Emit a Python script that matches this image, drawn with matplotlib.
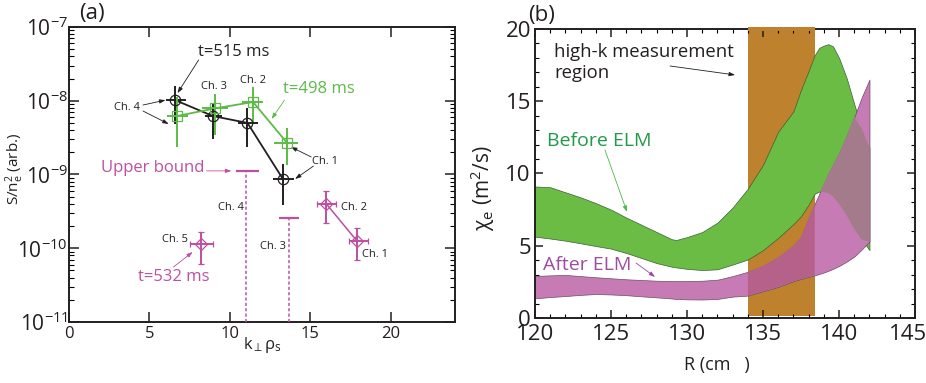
import numpy as np
import matplotlib
matplotlib.use('Agg')
import matplotlib.pyplot as plt
from matplotlib.patches import Rectangle
from matplotlib.ticker import (LogLocator, MultipleLocator, NullFormatter, FixedLocator,
                               FuncFormatter)

plt.rcParams['font.family'] = ['Open Sans', 'DejaVu Sans']
plt.rcParams['mathtext.fontset'] = 'custom'
plt.rcParams['mathtext.rm'] = 'Open Sans'
plt.rcParams['mathtext.it'] = 'Open Sans:italic'
plt.rcParams['mathtext.default'] = 'regular'
plt.rcParams['mathtext.fallback'] = 'stixsans'

# ---- panel (a): spectral density vs k_perp rho_s  (order Ch.4, Ch.3, Ch.2, Ch.1)
k515 = [6.6, 8.95, 11.1, 13.3]
k515_lo = [6.06, 8.44, 10.5, 12.69]
k515_hi = [7.3, 9.5, 11.75, 14.0]
s515 = [1.02e-8, 6.2e-9, 5.0e-9, 8.7e-10]
s515_lo = [4.84e-9, 3.03e-9, 2.36e-9, 3.86e-10]
s515_hi = [1.58e-8, 9.3e-9, 7.97e-9, 1.39e-9]

k498 = [6.7, 9.1, 11.45, 13.55]
k498_lo = [6.1, 8.3, 10.75, 12.75]
k498_hi = [7.4, 9.9, 12.06, 14.25]
s498 = [6.2e-9, 7.9e-9, 9.6e-9, 2.7e-9]
s498_lo = [2.36e-9, 3.44e-9, 5.1e-9, 1.35e-9]
s498_hi = [1.12e-8, 1.24e-8, 1.53e-8, 4.26e-9]

# t=532 ms: Ch.5, Ch.2, Ch.1
k532 = [8.2, 16.0, 17.9]
k532_lo = [7.5, 15.4, 17.4]
k532_hi = [8.94, 16.6, 18.6]
s532 = [1.15e-10, 4.0e-10, 1.26e-10]
s532_lo = [6.2e-11, 2.2e-10, 6.9e-11]
s532_hi = [1.66e-10, 5.97e-10, 1.88e-10]

# upper bounds at t=532 ms: Ch.4, Ch.3
k_ub = [11.0, 13.7]
k_ub_lo = [10.4, 13.06]
k_ub_hi = [11.8, 14.3]
s_ub = [1.12e-9, 2.6e-10]

# ---- panel (b): chi_e bands vs R
R = [120, 121, 122, 123, 124, 125, 126, 127, 128, 129, 129.3, 130, 131, 132, 133,
     134, 135, 136, 137, 137.5, 138, 138.4, 138.7, 139, 139.3, 139.6, 140, 140.5,
     141, 141.5, 142]
before_hi = [9.1, 9.05, 8.7, 8.35, 7.95, 7.5, 6.95, 6.45, 5.95, 5.45, 5.4, 5.6, 5.95,
             6.6, 7.65, 8.95, 10.6, 12.9, 14.3, 15.8, 17.1, 18.2, 18.7, 18.85, 18.95,
             18.8, 18.0, 16.6, 14.8, 13.1, 11.8]
before_lo = [5.63, 5.5, 5.35, 5.17, 4.98, 4.8, 4.5, 4.15, 3.8, 3.55, 3.5, 3.4, 3.32,
             3.37, 3.7, 4.05, 4.7, 5.55, 6.5, 7.05, 7.85, 8.6, 8.75, 8.7, 8.65, 8.4,
             7.9, 7.1, 6.15, 5.4, 4.7]
after_hi = [2.91, 2.95, 2.98, 2.9, 2.82, 2.75, 2.68, 2.63, 2.58, 2.56, 2.56, 2.56, 2.58,
            2.65, 2.9, 3.2, 3.6, 4.2, 5.0, 5.6, 6.9, 7.9, 8.6, 9.3, 10.0, 10.6, 11.4,
            12.6, 13.9, 15.3, 16.5]
after_lo = [1.36, 1.45, 1.52, 1.6, 1.66, 1.63, 1.58, 1.5, 1.43, 1.35, 1.32, 1.29, 1.28,
            1.32, 1.48, 1.55, 1.85, 2.15, 2.55, 2.7, 2.85, 2.95, 3.05, 3.15, 3.27, 3.4,
            3.6, 3.9, 4.25, 4.75, 5.3]
meas_region = (134.0, 138.4)

black = '#231f20'
green = '#5cbb46'
magenta = '#bd4fa3'
band_green = '#6abc45'
band_pink = '#c77bb5'
band_mauve = '#a47b8b'
band_red = '#b5618a'
orange = '#be812e'

fig = plt.figure(figsize=(9.26, 3.83), dpi=100)
ax1 = fig.add_axes([0.0745, 0.1593, 0.4168, 0.7702])
ax2 = fig.add_axes([0.5778, 0.1697, 0.4104, 0.7546])


def errs(v, lo, hi):
    v, lo, hi = np.array(v), np.array(lo), np.array(hi)
    return [v - lo, hi - v]


# t=515 ms
ax1.plot(k515, s515, color=black, lw=1.3, zorder=3)
ax1.errorbar(k515, s515, xerr=errs(k515, k515_lo, k515_hi), yerr=errs(s515, s515_lo, s515_hi),
             fmt='o', ms=7.5, mfc='none', mec=black, mew=0.9, ecolor=black, elinewidth=1.4,
             capsize=0, zorder=4)
# t=498 ms
ax1.plot(k498, s498, color=green, lw=1.3, zorder=3)
ax1.errorbar(k498, s498, xerr=errs(k498, k498_lo, k498_hi), yerr=errs(s498, s498_lo, s498_hi),
             fmt='s', ms=6.5, mfc='none', mec=green, mew=0.9, ecolor=green, elinewidth=1.4,
             capsize=0, zorder=4)
# t=532 ms
ax1.plot(k532[1:], s532[1:], color=magenta, lw=1.1, zorder=3)
ax1.errorbar(k532, s532, xerr=errs(k532, k532_lo, k532_hi), yerr=errs(s532, s532_lo, s532_hi),
             fmt='D', ms=6.5, mfc='none', mec=magenta, mew=0.9, ecolor=magenta, elinewidth=1.4,
             capsize=2.5, capthick=1.4, zorder=4)
# upper bounds
ax1.hlines(s_ub, k_ub_lo, k_ub_hi, color=magenta, lw=1.6, zorder=4)
ax1.vlines(k_ub, 1e-11, s_ub, color=magenta, lw=1.1, linestyles=(0, (2, 1.5)), zorder=3)

ax1.set_yscale('log')
ax1.set_xlim(0, 24)
ax1.set_ylim(1e-11, 1e-7)
ax1.xaxis.set_major_locator(FixedLocator([0, 5, 10, 15, 20]))
ax1.yaxis.set_major_locator(LogLocator(base=10, numticks=10))
ax1.yaxis.set_minor_locator(LogLocator(base=10, subs=np.arange(2, 10), numticks=10))
ax1.yaxis.set_minor_formatter(NullFormatter())
ax1.tick_params(axis='x', which='major', direction='in', top=True, length=7, width=1.1,
                labelsize=12, pad=3, colors=black)
ax1.tick_params(axis='y', which='major', direction='in', right=True, length=7, width=1.1,
                labelsize=15, pad=1, colors=black)
ax1.tick_params(axis='y', which='minor', direction='in', right=True, length=3.5, width=0.8)
for s in ax1.spines.values():
    s.set_linewidth(1.4)
    s.set_color(black)

arr = dict(arrowstyle='-|>,head_length=0.35,head_width=0.12', lw=0.6, shrinkA=0, shrinkB=0)

ax1.text(8.0, 4.6e-8, 't=515 ms', fontsize=12, color=black, ha='left', va='center')
ax1.annotate('', xy=(6.75, 1.27e-8), xytext=(8.06, 3.57e-8), arrowprops=dict(color=black, **arr))
ax1.text(13.3, 1.45e-8, 't=498 ms', fontsize=12, color=green, ha='left', va='center')
ax1.annotate('', xy=(12.6, 5.66e-9), xytext=(13.4, 1.02e-8), arrowprops=dict(color=green, **arr))
ax1.text(9.0, 1.58e-8, 'Ch. 3', fontsize=8, color=black, ha='center', va='center')
ax1.text(11.44, 1.91e-8, 'Ch. 2', fontsize=8, color=black, ha='center', va='center')
ax1.text(3.6, 8.0e-9, 'Ch. 4', fontsize=8, color=black, ha='center', va='center')
ax1.annotate('', xy=(6.0, 1.02e-8), xytext=(4.6, 8.75e-9), arrowprops=dict(color=black, **arr))
ax1.annotate('', xy=(6.2, 4.84e-9), xytext=(4.6, 7.26e-9), arrowprops=dict(color=black, **arr))
ax1.text(15.9, 1.48e-9, 'Ch. 1', fontsize=8, color=black, ha='center', va='center')
ax1.annotate('', xy=(13.8, 2.36e-9), xytext=(15.06, 1.73e-9), arrowprops=dict(color=black, **arr))
ax1.annotate('', xy=(14.06, 8.7e-10), xytext=(15.2, 1.3e-9), arrowprops=dict(color=black, **arr))
ax1.text(8.4, 1.22e-9, 'Upper bound', fontsize=12, color=magenta, ha='right', va='center')
ax1.annotate('', xy=(10.1, 1.12e-9), xytext=(8.56, 1.12e-9), arrowprops=dict(color=magenta, **arr))
ax1.text(10.06, 3.52e-10, 'Ch. 4', fontsize=8, color=black, ha='center', va='center')
ax1.text(12.69, 1.07e-10, 'Ch. 3', fontsize=8, color=black, ha='center', va='center')
ax1.text(6.62, 1.33e-10, 'Ch. 5', fontsize=8, color=black, ha='center', va='center')
ax1.text(17.7, 3.52e-10, 'Ch. 2', fontsize=8, color=black, ha='center', va='center')
ax1.text(19.0, 8.35e-11, 'Ch. 1', fontsize=8, color=black, ha='center', va='center')
ax1.text(6.5, 4.07e-11, 't=532 ms', fontsize=12, color=magenta, ha='center', va='center')
ax1.annotate('', xy=(7.69, 8.9e-11), xytext=(6.5, 5.57e-11), arrowprops=dict(color=magenta, **arr))

fig.text(15 / 926, 1 - 169 / 383, 'S/n$_e^2$ (arb.)', rotation=90, ha='center', va='center',
         fontsize=11, color=black)
fig.text(262 / 926, 1 - 345 / 383, r'k$_\perp\rho_s$', ha='center', va='center',
         fontsize=12, color=black)
fig.text(92 / 926, 1 - 13 / 383, '(a)', ha='center', va='center', fontsize=16, color=black)

# ---- panel (b)
R_arr = np.array(R)
b_lo, b_hi = np.array(before_lo), np.array(before_hi)
a_lo, a_hi = np.array(after_lo), np.array(after_hi)

ax2.add_patch(Rectangle((meas_region[0], 0.15), meas_region[1] - meas_region[0], 20.0,
                        facecolor=orange, edgecolor='none', clip_on=False, zorder=1))
# the orange column runs over the top frame line
ax2.add_patch(Rectangle((meas_region[0], 19.85), meas_region[1] - meas_region[0], 0.3,
                        facecolor=orange, edgecolor='none', clip_on=False, zorder=7))
ax2.fill_between(R_arr, b_lo, b_hi, facecolor=band_green, edgecolor='#3f5f35', lw=0.5, zorder=2)
ax2.fill_between(R_arr, a_lo, a_hi, facecolor=band_pink, edgecolor='#6a4d63', lw=0.5, zorder=3)
ov_lo = np.maximum(b_lo, a_lo)
ov_hi = np.minimum(b_hi, a_hi)
ax2.fill_between(R_arr, ov_lo, ov_hi, where=ov_hi > ov_lo, interpolate=True,
                 facecolor=band_mauve, edgecolor='none', zorder=4)
inside = (R_arr >= meas_region[0]) & (R_arr <= meas_region[1])
ax2.fill_between(R_arr, a_lo, a_hi, where=inside, facecolor=band_red, edgecolor='none', zorder=4)

ax2.set_xlim(120, 145)
ax2.set_ylim(0, 20)
ax2.xaxis.set_major_locator(MultipleLocator(5))
ax2.xaxis.set_minor_locator(MultipleLocator(1))
ax2.yaxis.set_major_locator(MultipleLocator(5))
ax2.yaxis.set_minor_locator(MultipleLocator(1))
# the label at the right end is placed by hand so it stays inside the figure
ax2.xaxis.set_major_formatter(FuncFormatter(lambda v, p: '' if v >= 145 else f'{v:.0f}'))
ax2.tick_params(which='major', direction='in', top=True, right=True, length=6, width=1.1,
                labelsize=16, colors=black)
ax2.tick_params(which='minor', direction='in', top=True, right=True, length=3, width=0.8)
ax2.tick_params(axis='x', pad=4)
ax2.tick_params(axis='y', pad=3)
for s in ax2.spines.values():
    s.set_linewidth(1.4)
    s.set_color(black)
    s.set_zorder(6)
ax2.annotate('145', xy=(145, 0), xycoords='data', xytext=(-5, -4), textcoords='offset points',
             ha='center', va='top', fontsize=16, color=black, annotation_clip=False)

ax2.text(121.25, 17.7, 'high-k measurement\nregion', fontsize=13.3, color=black,
         ha='left', va='center', linespacing=1.2, zorder=6)
ax2.annotate('', xy=(133.16, 16.82), xytext=(128.88, 17.44),
             arrowprops=dict(color=black, **arr), zorder=6)
ax2.text(120.8, 12.25, 'Before ELM', fontsize=14, color='#1f9a48', ha='left', va='center', zorder=6)
ax2.annotate('', xy=(126.05, 7.34), xytext=(124.6, 11.63),
             arrowprops=dict(color='#4db848', **arr), zorder=6)
ax2.text(120.5, 3.67, 'After ELM', fontsize=14, color='#9d4c9f', ha='left', va='center', zorder=6)
ax2.annotate('', xy=(127.9, 2.84), xytext=(126.64, 3.81),
             arrowprops=dict(color='#9d4c9f', **arr), zorder=6)

fig.text(483 / 926, 1 - 188 / 383, r'$\chi_e$ (m$^2$/s)', rotation=90, ha='center', va='center',
         fontsize=15, color=black)
fig.text(717 / 926, 1 - 365 / 383, 'R (cm   )', ha='center', va='center', fontsize=13,
         color=black)
fig.text(542 / 926, 1 - 15 / 383, '(b)', ha='center', va='center', fontsize=16, color=black)

fig.savefig('out.png', dpi=100)
